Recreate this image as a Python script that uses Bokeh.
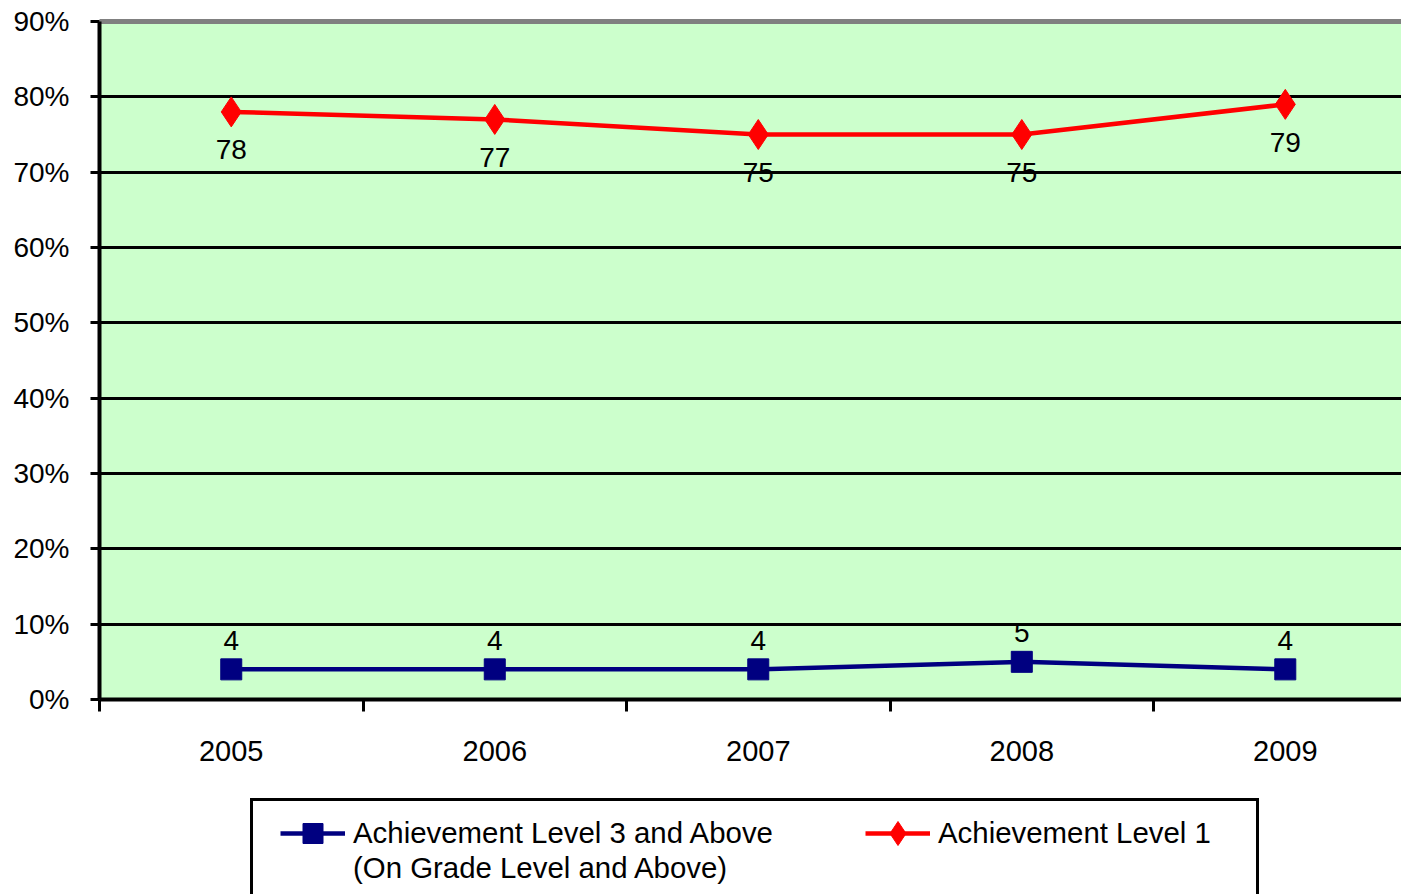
from bokeh.plotting import figure
from bokeh.layouts import column
from bokeh.models import Range1d, FixedTicker, Legend, LegendItem, LinearAxis
from bokeh.core.properties import value
from bokeh.embed import file_html
from bokeh.resources import INLINE

# ---- data ----
years = ["2005", "2006", "2007", "2008", "2009"]
level3_and_above = [4, 4, 4, 5, 4]
level1 = [78, 77, 75, 75, 79]
y_ticks = [0, 10, 20, 30, 40, 50, 60, 70, 80, 90]
y_tick_labels = ["0%", "10%", "20%", "30%", "40%", "50%", "60%", "70%", "80%", "90%"]
name_level3 = "Achievement Level 3 and Above"
name_level3_line2 = "(On Grade Level and Above)"
name_level1 = "Achievement Level 1"

FONT = "Liberation Sans"
BLUE = "#000080"
RED = "#FF0000"

xs = list(range(len(years)))

p = figure(width=1401, height=780, output_backend="svg", toolbar_location=None,
           x_range=Range1d(-0.5, 4.441), y_range=Range1d(0, 90),
           min_border_left=99, min_border_right=0, min_border_top=21, min_border_bottom=81)

p.background_fill_color = "#CCFFCC"
p.border_fill_color = "white"
p.outline_line_color = None

# grid
p.xgrid.visible = False
p.ygrid.ticker = FixedTicker(ticks=y_ticks[1:-1])
p.ygrid.grid_line_color = "black"
p.ygrid.grid_line_width = 3

# y axis
ya = p.left[0]
ya.ticker = FixedTicker(ticks=y_ticks)
ya.major_label_overrides = {t: l for t, l in zip(y_ticks, y_tick_labels)}
ya.axis_line_color = "black"
ya.axis_line_width = 4
ya.major_tick_line_color = "black"
ya.major_tick_line_width = 3
ya.major_tick_out = 9
ya.major_tick_in = 0
ya.minor_tick_line_color = None
ya.major_label_standoff = 21
ya.major_label_text_font = FONT
ya.major_label_text_font_size = "28px"
ya.major_label_text_color = "black"

# x axis (below)
xa = p.below[0]
xa.ticker = FixedTicker(ticks=xs, minor_ticks=[i - 0.5 for i in range(len(years) + 1)])
xa.major_label_overrides = {i: y for i, y in zip(xs, years)}
xa.axis_line_color = "black"
xa.axis_line_width = 4
xa.major_tick_line_color = None
xa.major_tick_out = 0
xa.major_tick_in = 0
xa.minor_tick_line_color = "black"
xa.minor_tick_line_width = 3
xa.minor_tick_out = 12
xa.minor_tick_in = 0
xa.major_label_standoff = 29
xa.major_label_text_font = FONT
xa.major_label_text_font_size = "29px"
xa.major_label_text_color = "black"

# gray top border of the plot area
top = LinearAxis(ticker=FixedTicker(ticks=[]), axis_line_color="#808080", axis_line_width=5,
                 major_tick_line_color=None, minor_tick_line_color=None,
                 major_tick_out=0, major_tick_in=0, major_label_standoff=0,
                 major_label_text_font_size="1px")
p.add_layout(top, "above")

# series
p.line(xs, level3_and_above, line_color=BLUE, line_width=4.5)
p.scatter(xs, level3_and_above, marker="square", size=21, fill_color=BLUE, line_color=BLUE)
p.line(xs, level1, line_color=RED, line_width=4.5)
p.scatter(xs, level1, marker="diamond", size=30, fill_color=RED, line_color=RED)

p.text(x=xs, y=level1, text=[str(v) for v in level1], y_offset=38,
       text_align="center", text_baseline="middle", text_font=value(FONT),
       text_font_size="28px", text_color="black")
p.text(x=xs, y=level3_and_above, text=[str(v) for v in level3_and_above], y_offset=-29,
       text_align="center", text_baseline="middle", text_font=value(FONT),
       text_font_size="28px", text_color="black")

# ---- legend strip below the chart ----
lf = figure(width=1401, height=114, output_backend="svg", toolbar_location=None,
            x_range=Range1d(0, 1), y_range=Range1d(0, 1),
            x_axis_location=None, y_axis_location=None,
            min_border_left=0, min_border_right=0, min_border_top=0, min_border_bottom=0)
lf.outline_line_color = None
lf.background_fill_color = "white"
lf.border_fill_color = "white"
lf.grid.visible = False

# legend swatches: one point each, placed outside the strip's visible range
OFF = [-10]
sw_blue_line = lf.line(x=OFF * 2, y=OFF * 2, line_color=BLUE, line_width=4.5)
sw_blue_mark = lf.scatter(x=OFF, y=OFF, marker="square", fill_color=BLUE, line_color=BLUE)
sw_red_line = lf.line(x=OFF * 2, y=OFF * 2, line_color=RED, line_width=4.5)
sw_red_mark = lf.scatter(x=OFF, y=OFF, marker="diamond", fill_color=RED, line_color=RED)
blank = lf.line(x=OFF * 2, y=OFF * 2, line_alpha=0)

DX = -99  # strip frame is aligned with the chart's frame


def mk_legend(items, loc, gw, gh, border=False, label_width=20, standoff=8):
    return Legend(items=items, location=(loc[0] + DX, loc[1]), orientation="vertical",
                  glyph_width=gw, glyph_height=gh, label_standoff=standoff, padding=0, margin=0,
                  spacing=0, label_width=label_width, label_height=20,
                  label_text_font=FONT, label_text_font_size="29.4px", label_text_color="black",
                  border_line_color="black" if border else None, border_line_width=3,
                  border_line_alpha=1,
                  background_fill_color="white", background_fill_alpha=1 if border else 0)


box = mk_legend([LegendItem(label=" ", renderers=[blank])], (250, -26), 1, 116,
                border=True, label_width=1002, standoff=0)
leg_b = mk_legend([LegendItem(label=name_level3, renderers=[sw_blue_line, sw_blue_mark])], (280, 36), 65, 50)
leg_c = mk_legend([LegendItem(label=name_level1, renderers=[sw_red_line, sw_red_mark])], (865, 31), 65, 60)
leg_d = mk_legend([LegendItem(label=name_level3_line2, renderers=[blank])], (280, 9), 65, 20)

for lg in (box, leg_b, leg_c, leg_d):
    lf.add_layout(lg, "center")

layout = column(p, lf, spacing=0)
open("out.html", "w").write(file_html(layout, INLINE))
